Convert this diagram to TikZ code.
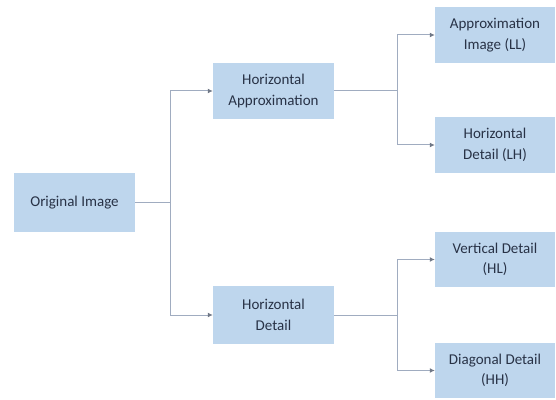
\documentclass[tikz,border=0pt]{standalone}
\usepackage{fontspec}
\setmainfont{Carlito}
\usetikzlibrary{arrows.meta}
\definecolor{boxfill}{RGB}{190,214,237}
\definecolor{linkgray}{RGB}{160,172,192}
\definecolor{textdark}{RGB}{40,50,70}
\tikzset{
  block/.style={fill=boxfill, draw=none, align=center, text=textdark,
    minimum width=121pt, minimum height=56pt, inner sep=2pt,
    font=\fontsize{15}{20.5}\selectfont},
  link/.style={draw=linkgray, line width=1pt,
    -{Latex[length=5pt, width=5pt, color=linkgray!70!black]}},
}

\begin{document}
\begin{tikzpicture}[x=1pt, y=1pt]

  \useasboundingbox (0,0) rectangle (556,399);

  % Boxes
  \node[block, minimum height=59pt] (orig) at (74.5,196.5) {Original Image};
  \node[block] (hapx) at (273.5,308) {Horizontal\\Approximation};
  \node[block, minimum height=58pt] (hdet) at (273.5,84) {Horizontal\\Detail};
  \node[block, minimum width=120pt] (ll) at (495,364) {Approximation\\Image (LL)};
  \node[block, minimum width=120pt] (lh) at (495,254) {Horizontal\\Detail (LH)};
  \node[block, minimum width=120pt, minimum height=55pt] (hl) at (495,139.5) {Vertical Detail\\(HL)};
  \node[block, minimum width=120pt, minimum height=55pt] (hh) at (495,28.5) {Diagonal Detail\\(HH)};

  % Branch points
  \coordinate (s1) at (170,196.5);
  \coordinate (s2) at (397,308);
  \coordinate (s3) at (397,84);

  % Connectors
  \draw[link, -] (orig.east) -- (s1);
  \draw[link] (s1) |- (hapx.west);
  \draw[link] (s1) |- (hdet.west);
  \draw[link, -] (hapx.east) -- (s2);
  \draw[link] (s2) |- (ll.west);
  \draw[link] (s2) |- (lh.west);
  \draw[link, -] (hdet.east) -- (s3);
  \draw[link] (s3) |- (hl.west);
  \draw[link] (s3) |- (hh.west);

\end{tikzpicture}
\end{document}
